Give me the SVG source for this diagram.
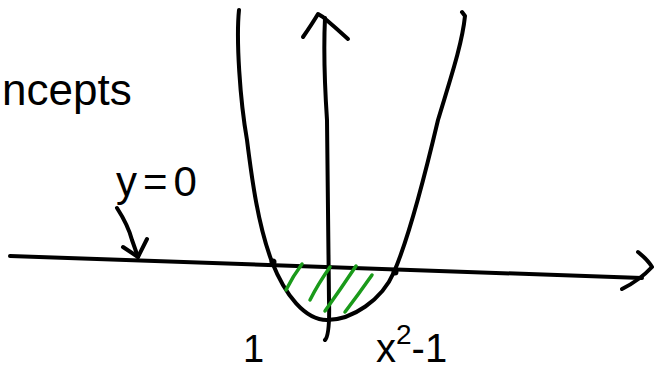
<svg xmlns="http://www.w3.org/2000/svg" width="654" height="371" viewBox="0 0 654 371">
<style>
.ink{fill:none;stroke:#000;stroke-width:4;stroke-linecap:round;stroke-linejoin:round}
.hatch{fill:none;stroke:#1a9a1a;stroke-width:3.5;stroke-linecap:round}
.hw{font-family:"Liberation Sans","DejaVu Sans",sans-serif;fill:#000}
</style>
<rect width="654" height="371" fill="#fff"/>
<g id="connectors">
<path class="ink" d="M10,256 L642,278"/>
<path class="ink" d="M638,252 Q648,260 652,267 Q640,280 622,289"/>
<path class="ink" d="M325,340 Q330,335 329,300 Q328,200 327,120 Q323,60 325,18"/>
<path class="ink" d="M303,37 Q312,24 318,14 L323,17 Q336,28 348,39"/>
<path class="ink" d="M117,208 Q128,225 132,240 L138,257"/>
<path class="ink" d="M123,247 L138,257 L147,239"/>
</g>
<g id="parabola">
<path class="ink" d="M239,10 C236,40 240,100 247,140 C252,180 258,225 272,262 C285,295 305,320 327,320 C352,320 382,300 394,272 C410,235 425,175 438,120 C450,80 462,45 465,16 L462,12"/>
<circle cx="273" cy="262" r="3.5" fill="#000"/>
<circle cx="395" cy="272" r="3.5" fill="#000"/>
</g>
<g id="shading">
<path class="hatch" d="M302,264 Q293,276 286,290"/>
<path class="hatch" d="M330,267 Q318,284 310,300"/>
<path class="hatch" d="M356,266 Q340,290 325,311"/>
<path class="hatch" d="M372,275 Q358,295 345,312"/>
</g>
<g id="labels">
<text class="hw" x="2" y="105" font-size="44">ncepts</text>
<text class="hw" x="116" y="196" font-size="42" letter-spacing="6">y=0</text>
<text class="hw" x="243" y="362" font-size="38">1</text>
<text class="hw" x="376" y="362" font-size="40">x<tspan font-size="28" dy="-18">2</tspan><tspan dy="18">-1</tspan></text>
</g>
</svg>
